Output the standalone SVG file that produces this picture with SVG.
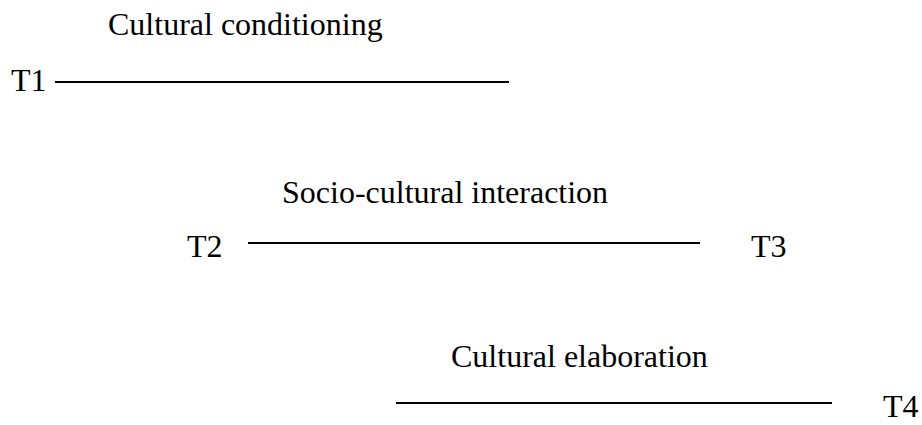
<svg xmlns="http://www.w3.org/2000/svg" width="922" height="425" viewBox="0 0 922 425">
<style>
.t { font-family: 'Liberation Serif', 'Noto Serif', 'DejaVu Serif', 'Times New Roman', serif; font-size: 32px; fill: #000; }
.ln { stroke: #000; stroke-width: 2; fill: none; }
</style>
<rect width="922" height="425" fill="#fff"/>
<g id="stage1">
<text class="t" x="108" y="35">Cultural conditioning</text>
<text class="t" x="11" y="91">T1</text>
</g>
<g id="stage2">
<text class="t" x="282" y="203">Socio-cultural interaction</text>
<text class="t" x="187" y="257">T2</text>
<text class="t" x="751" y="257">T3</text>
</g>
<g id="stage3">
<text class="t" x="451" y="367">Cultural elaboration</text>
<text class="t" x="883" y="417">T4</text>
</g>
<g id="connectors">
<line class="ln" x1="55" y1="82" x2="509" y2="82"/>
<line class="ln" x1="248" y1="243" x2="700" y2="243"/>
<line class="ln" x1="396" y1="403" x2="832" y2="403"/>
</g>
</svg>
